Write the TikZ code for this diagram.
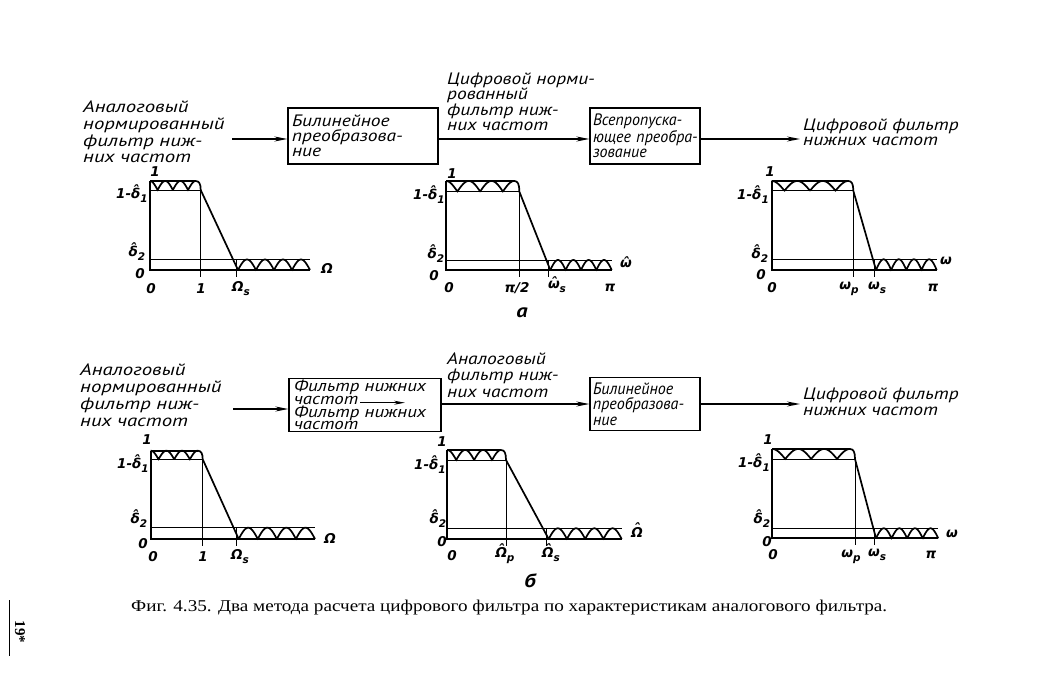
\documentclass[tikz,border=0pt]{standalone}
\usepackage{fontspec}
\usepackage{graphicx}
\usetikzlibrary{arrows.meta}
\newfontfamily\drf{PT Sans}[FakeStretch=1.18]
\newfontfamily\drw{PT Sans}[FakeStretch=1.26]
\newfontfamily\drn{PT Sans}[FakeStretch=0.97]
\newfontfamily\grf{DejaVu Sans}
\newfontfamily\capfont{Liberation Serif}
\newcommand\hatc[2][0pt]{\ooalign{#2\cr\hidewidth\raisebox{#1}{ˆ}\hidewidth\cr}}
\newcommand\lsub[1]{\raisebox{-0.3em}{\fontsize{10.5}{10.5}\selectfont #1}}
\newsavebox\capbox
\sbox\capbox{\capfont\fontsize{16.5}{16.5}\selectfont Фиг. 4.35. Два метода расчета цифрового фильтра по характеристикам аналогового фильтра.}
\newcommand\filt[8]{%
 \pgfmathsetmacro\Pp{(#2-5-#1)/3}%
 \pgfmathsetmacro\xr{#1+3*\Pp}%
 \pgfmathsetmacro\xa{#3+2}%
 \pgfmathsetmacro\Qs{(#4-\xa)/4}%
 \draw[thn] (#1,#6) -- (#2,#6);
 \draw[thn] (#1,#7) -- (#4,#7);
 \draw[thn] (#2,#6) -- (#2,#8+7);
 \draw[thn] (#3,#7) -- (#3,#8+7);
 \draw[thk] (#1,#5) -- (#1,#8) -- (#4,#8);
 \draw[thk] (#1,#5) -- (\xr,#5);
 \draw[thk] plot[domain=#1:\xr,samples=150] (\x,{#6-(#6-#5)*abs(cos(180*(\x-#1)/\Pp))})
   .. controls (#2-1.5,#5) and (#2,#5+3) .. (#2,#6) -- (\xa,#8);
 \draw[thk] plot[domain=\xa:#4,samples=150] (\x,{#8-(#8-#7)*abs(sin(180*(\x-\xa)/\Qs))});
}
\begin{document}
\begin{tikzpicture}[x=1pt,y=-1pt,
 txt/.style={font=\drf\itshape\fontsize{16.5}{16.7}\selectfont, align=left, inner sep=0pt, anchor=base west},
 boxt/.style={draw, line width=1.3pt, inner sep=0pt, align=left, font=\drf\itshape\fontsize{16.5}{15.3}\selectfont},
 arr/.style={line width=1.3pt, -{Stealth[length=13pt,width=5pt]}},
 arrs/.style={line width=1pt, -{Stealth[length=11pt,width=4pt]}},
 lab/.style={font=\grf\itshape\bfseries\fontsize{13.5}{13.5}\selectfont, inner sep=0pt},
 lbl/.style={font=\drf\itshape\bfseries\fontsize{19}{19}\selectfont, inner sep=0pt},
 thk/.style={line width=1.7pt},
 thn/.style={line width=0.7pt}]
\useasboundingbox (0,0) rectangle (1041,700);
\fill[white] (0,0) rectangle (1041,700);

% ---------- top row ----------
\node[txt, font=\drw\itshape\fontsize{16.5}{16.7}\selectfont] (ta) at (83,163) {Аналоговый\\нормированный\\фильтр ниж-\\них частот};
\node[boxt, minimum width=150pt, minimum height=56pt, text width=142pt] (tb1) at (363,136) {Билинейное\\преобразова-\\ние};
\node[txt, font=\drf\itshape\fontsize{16.5}{15.5}\selectfont] (tc) at (447,131) {Цифровой норми-\\рованный\\фильтр ниж-\\них частот};
\node[boxt, minimum width=110pt, minimum height=56pt, text width=104pt, font=\drn\itshape\fontsize{16.5}{15.3}\selectfont] (tb2) at (645,136) {\mbox{Всепропуска-}\\\mbox{ющее преобра-}\\\mbox{зование}};
\node[txt, font=\drf\itshape\fontsize{16.5}{15.5}\selectfont] (td) at (803,146) {Цифровой фильтр\\нижних частот};
\coordinate (ts) at (232,139);
\coordinate (te) at (800,139);
\draw[arr] (ts) -- (tb1.west |- ts);
\draw[arr] (tb1.east |- ts) -- (tb2.west |- ts);
\draw[arr] (tb2.east |- ts) -- (te);

% ---------- bottom row ----------
\node[txt, font=\drw\itshape\fontsize{16.5}{16.7}\selectfont] (ba) at (80,426) {Аналоговый\\нормированный\\фильтр ниж-\\них частот};
\node[boxt, minimum width=152pt, minimum height=53pt, text width=142pt, font=\drf\itshape\fontsize{16}{12.7}\selectfont] (bb1) at (365,405) {Фильтр нижних\\частот\\Фильтр нижних\\частот};
\coordinate (ia) at (360,402.7);
\coordinate (ib) at (405,402.7);
\draw[arrs] (ia) -- (ib);
\node[txt, font=\drf\itshape\fontsize{16.5}{16.5}\selectfont] (bc) at (447,397) {Аналоговый\\фильтр ниж-\\них частот};
\node[boxt, minimum width=110pt, minimum height=53pt, text width=104pt, font=\drn\itshape\fontsize{16.5}{15.5}\selectfont] (bb2) at (645,404) {\mbox{Билинейное}\\\mbox{преобразова-}\\\mbox{ние}};
\node[txt, font=\drf\itshape\fontsize{16.5}{15.5}\selectfont] (bd) at (803,415) {Цифровой фильтр\\нижних частот};
\coordinate (bs) at (233,409);
\coordinate (bs2) at (440,404);
\coordinate (be) at (800,404);
\draw[arr] (bs) -- (bb1.west |- bs);
\draw[arr] (bb1.east |- bs2) -- (bb2.west |- bs2);
\draw[arr] (bb2.east |- bs2) -- (be);

% ---------- graphs ----------
\filt{150}{200.7}{236}{310}{181}{190}{259.5}{270}
\filt{446}{519.3}{548.3}{611.7}{181}{191.5}{260}{270}
\filt{771.7}{853.3}{874}{936.7}{181}{190.7}{259.3}{270}
\filt{150.7}{202.7}{236.7}{315}{450.7}{459.3}{527.7}{539}
\filt{447.3}{506}{546.7}{621.7}{450}{460}{528.3}{539}
\filt{772.3}{855}{874}{938.3}{449}{459}{528.3}{538.3}

% labels graph 1
\node[lab] (g1a) at (155,172) {1};
\node[lab, anchor=east] (g1b) at (148,195) {1-\hatc[0.22em]{δ}\lsub{1}};
\node[lab] (g1c) at (137,253) {\hatc[0.22em]{δ}\lsub{2}};
\node[lab] (g1d) at (140,274) {0};
\node[lab] (g1e) at (151,289) {0};
\node[lab] (g1f) at (201,289) {1};
\node[lab] (g1g) at (241,289) {Ω\lsub{s}};
\node[lab] (g1h) at (327,268) {Ω};
% labels graph 2
\node[lab] (g2a) at (452,174) {1};
\node[lab, anchor=east] (g2b) at (445,196) {1-\hatc[0.22em]{δ}\lsub{1}};
\node[lab] (g2c) at (436,255) {\hatc[0.22em]{δ}\lsub{2}};
\node[lab] (g2d) at (434,276) {0};
\node[lab] (g2e) at (449,288) {0};
\node[lab] (g2f) at (517,288) {π/2};
\node[lab] (g2g) at (557,287) {\hatc[0.05em]{ω}\lsub{s}};
\node[lab] (g2h) at (610,288) {π};
\node[lab] (g2i) at (626,264) {\hatc[0.05em]{ω}};
\node[lbl] (g2j) at (522,313) {а};
% labels graph 3
\node[lab] (g3a) at (770,172) {1};
\node[lab, anchor=east] (g3b) at (769,196) {1-\hatc[0.22em]{δ}\lsub{1}};
\node[lab] (g3c) at (760,255) {\hatc[0.22em]{δ}\lsub{2}};
\node[lab] (g3d) at (761,275) {0};
\node[lab] (g3e) at (772,288) {0};
\node[lab] (g3f) at (849,289) {ω\lsub{p}};
\node[lab] (g3g) at (877,288) {ω\lsub{s}};
\node[lab] (g3h) at (933,288) {π};
\node[lab] (g3i) at (946,261) {ω};
% labels graph 4
\node[lab] (g4a) at (147,440) {1};
\node[lab, anchor=east] (g4b) at (149,465) {1-\hatc[0.22em]{δ}\lsub{1}};
\node[lab] (g4c) at (139,520) {\hatc[0.22em]{δ}\lsub{2}};
\node[lab] (g4d) at (143,544) {0};
\node[lab] (g4e) at (153,557) {0};
\node[lab] (g4f) at (203,557) {1};
\node[lab] (g4g) at (240,557) {Ω\lsub{s}};
\node[lab] (g4h) at (330,538) {Ω};
% labels graph 5
\node[lab] (g5a) at (442,442) {1};
\node[lab, anchor=east] (g5b) at (446,466) {1-\hatc[0.22em]{δ}\lsub{1}};
\node[lab] (g5c) at (438,520) {\hatc[0.22em]{δ}\lsub{2}};
\node[lab] (g5d) at (442,542) {0};
\node[lab] (g5e) at (452,556) {0};
\node[lab] (g5f) at (505,556) {\hatc[0.25em]{Ω}\lsub{p}};
\node[lab] (g5g) at (551,555) {\hatc[0.25em]{Ω}\lsub{s}};
\node[lab] (g5h) at (637,532) {\hatc[0.25em]{Ω}};
\node[lbl] (g5i) at (530,581) {б};
% labels graph 6
\node[lab] (g6a) at (768,440) {1};
\node[lab, anchor=east] (g6b) at (770,464) {1-\hatc[0.22em]{δ}\lsub{1}};
\node[lab] (g6c) at (762,520) {\hatc[0.22em]{δ}\lsub{2}};
\node[lab] (g6d) at (767,542) {0};
\node[lab] (g6e) at (773,555) {0};
\node[lab] (g6f) at (851,557) {ω\lsub{p}};
\node[lab] (g6g) at (877,555) {ω\lsub{s}};
\node[lab] (g6h) at (931,555) {π};
\node[lab] (g6i) at (952,534) {ω};

% caption
\pgfmathsetmacro\capsx{756/\the\wd\capbox}
\node[inner sep=0pt, anchor=west] (cap) at (131,608) {\scalebox{\capsx}[1]{\usebox\capbox}};
\node[inner sep=0pt, rotate=-90, font=\capfont\bfseries\fontsize{15}{15}\selectfont] (pg) at (20,632) {19*};
\coordinate (pl1) at (9,600);
\coordinate (pl2) at (9,656);
\draw[line width=0.7pt] (pl1) -- (pl2);
\end{tikzpicture}
\end{document}
